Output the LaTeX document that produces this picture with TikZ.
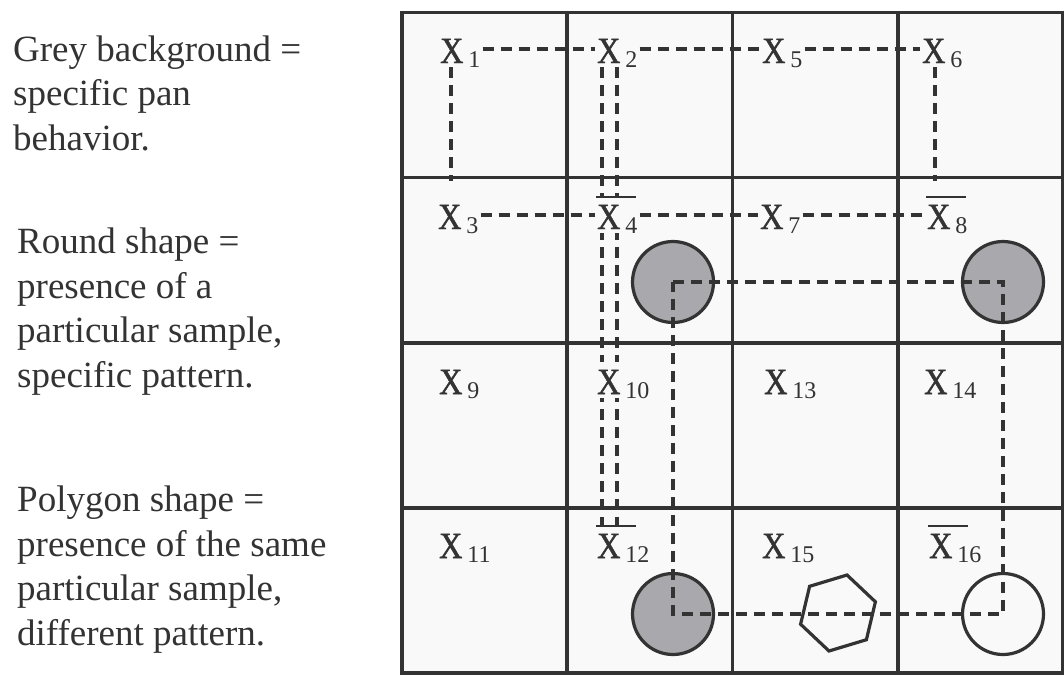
\documentclass[tikz,border=0pt]{standalone}
\usepackage{fontspec}
\setmainfont{Liberation Serif}
\newfontfamily\xfont[FakeBold=1.3]{Liberation Serif}
\usepackage{graphicx}
\usetikzlibrary{calc}
\pgfdeclarelayer{gridlayer}
\pgfdeclarelayer{linklayer}
\pgfdeclarelayer{frontlayer}
\pgfsetlayers{gridlayer,linklayer,main,frontlayer}
\definecolor{ink}{HTML}{333333}
\definecolor{cellfill}{HTML}{F9F9F9}
\definecolor{dotfill}{HTML}{A9A9AD}
\newcommand\mysubfont{\fontsize{24}{24}\selectfont}
\newcommand\xlab[1]{\scalebox{0.87}[1]{\xfont X}\hspace{5pt}\raisebox{-4pt}{\mysubfont #1}}
\tikzset{
 lbl/.style={anchor=base west, fill=cellfill, inner xsep=2pt, inner ysep=4pt, text height=28pt, text depth=0pt, font=\fontsize{37}{37}\selectfont, text=ink},
 link/.style={draw=ink, line width=3.4pt, dash pattern=on 11pt off 7pt},
 gridline/.style={draw=ink, line width=3.6pt},
 bar/.style={draw=ink, line width=1.8pt},
 dot/.style={circle, draw=ink, line width=3.2pt, minimum size=81pt, inner sep=0pt},
 hexline/.style={draw=ink, line width=3.2pt, line join=miter},
 legend/.style={anchor=base west, align=left, font=\fontsize{37}{44.5}\selectfont, text=ink, inner sep=0pt},
}
\begin{document}
\begin{tikzpicture}[x=1pt,y=-1pt]
\useasboundingbox (0,0) rectangle (1064,675);

% grid
\begin{pgfonlayer}{gridlayer}
\fill[white] (0,0) rectangle (1064,675);
\fill[cellfill] (402,12.5) rectangle (1063,673);
\foreach \i in {1,2,3} {
  \draw[gridline] (402+165.25*\i,12.5) -- (402+165.25*\i,673);
  \draw[gridline] (402,12.5+165.125*\i) -- (1063,12.5+165.125*\i);
}
\draw[gridline] (402,12.5) rectangle (1063,673);
\end{pgfonlayer}

% legend (anchored at the baseline of the last line)
\node[legend] (leg1) at (13,150) {Grey background =\\specific pan\\behavior.};
\node[legend] (leg2) at (17,387) {Round shape =\\presence of a\\particular sample,\\specific pattern.};
\node[legend] (leg3) at (17,645) {Polygon shape =\\presence of the same\\particular sample,\\different pattern.};

% labels
\node[lbl] (x1) at (438,63) {\xlab{1}};
\node[lbl] (x2) at (595,63) {\xlab{2}};
\node[lbl] (x5) at (760,63) {\xlab{5}};
\node[lbl] (x6) at (920,63) {\xlab{6}};
\node[lbl] (x3) at (436,229) {\xlab{3}};
\node[lbl] (x4) at (595,229) {\xlab{4}};
\node[lbl] (x7) at (758,229) {\xlab{7}};
\node[lbl] (x8) at (925,229) {\xlab{8}};
\node[lbl] (x9) at (437,394) {\xlab{9}};
\node[lbl] (x10) at (595,394) {\xlab{10}};
\node[lbl] (x13) at (762,394) {\xlab{13}};
\node[lbl] (x14) at (922,394) {\xlab{14}};
\node[lbl] (x11) at (437,558) {\xlab{11}};
\node[lbl] (x12) at (595,558) {\xlab{12}};
\node[lbl] (x15) at (760,558) {\xlab{15}};
\node[lbl] (x16) at (927,558) {\xlab{16}};

% overbars
\foreach \n in {x4,x8,x12,x16} {
  \draw[bar] ($(\n.north west)+(1,0)$) -- ++(40,0);
}

% circles and polygon
\node[dot, fill=dotfill] (c4) at (673,282) {};
\node[dot, fill=dotfill] (c8) at (1003,282) {};
\node[dot, fill=dotfill] (c12) at (673,614) {};
\node[dot] (c16) at (1003,614) {};
\draw[hexline] (875.4,601.8) -- (847,575) -- (809.6,586.3) -- (800.6,624.2) -- (829,651) -- (866.4,639.7) -- cycle;

% label connectors
\coordinate (rowend) at (0,181);
\begin{pgfonlayer}{linklayer}
\draw[link] (x1) -- (x2) -- (x5) -- (x6);
\draw[link] (x3) -- (x4) -- (x7) -- (x8);
\draw[link] ($(x1.south west)+(13,0)$) -- ($(x1.south west |- rowend)+(13,0)$);
\draw[link] ($(x6.south west)+(15,0)$) -- ($(x6.south west |- rowend)+(15,0)$);
\draw[link] ($(x2.south west)+(7,0)$) -- ($(x12.north west)+(7,0)$);
\draw[link] ($(x2.south west)+(22,0)$) -- ($(x12.north west)+(22,0)$);
\end{pgfonlayer}

% loop through circle centres
\begin{pgfonlayer}{frontlayer}
\draw[link] (c4.center) -- (c8.center) -- (c16.center) -- (c12.center) -- cycle;
\end{pgfonlayer}
\end{tikzpicture}
\end{document}
